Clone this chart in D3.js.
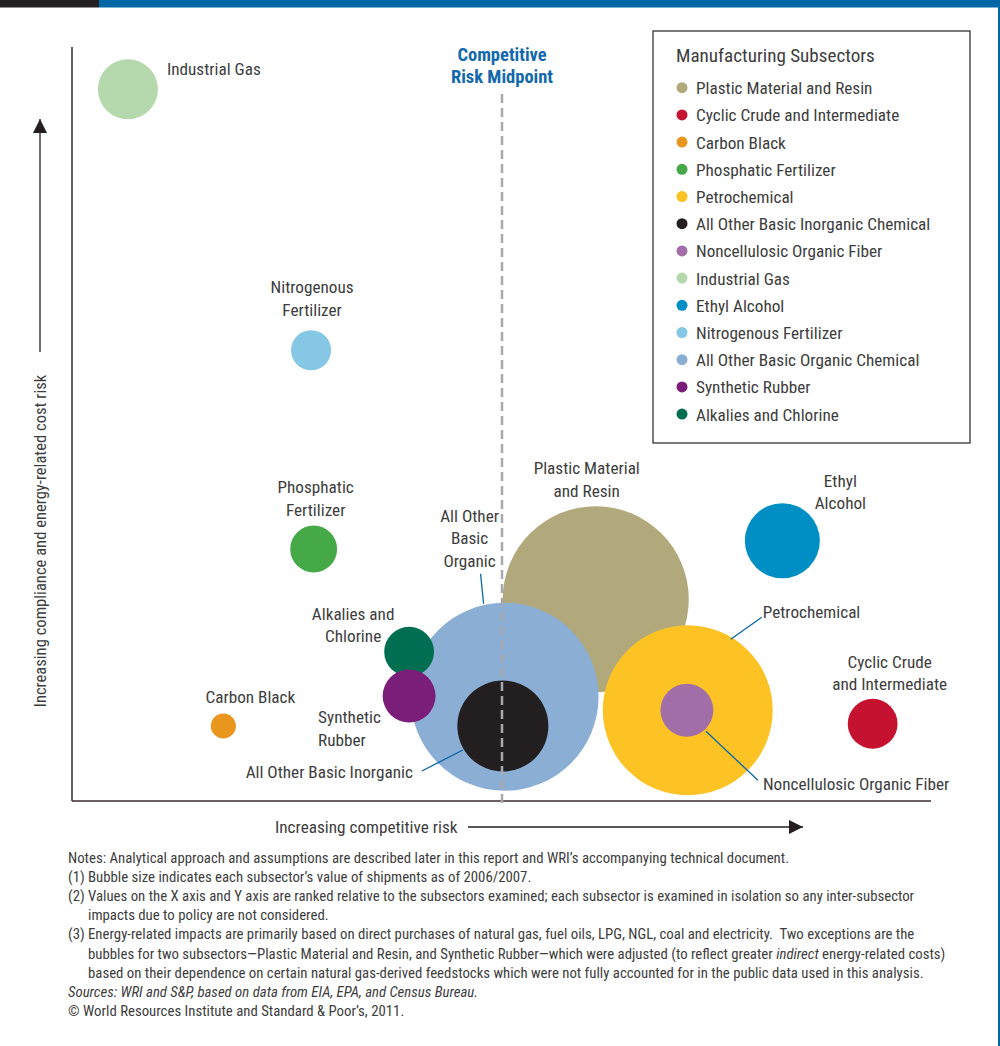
<html lang='en'>
    <head>
        <meta charset='utf-8'>
        <title>Manufacturing Subsectors: Competitive and Cost Risk</title>
        <script src="https://d3js.org/d3.v7.min.js"></script>
        <style>
            body { margin: 0; background: #fff; }
            text { font-family: "Liberation Sans Narrow", "Roboto Condensed", "DejaVu Sans Condensed", "Liberation Sans", sans-serif; fill: #3d3d3d; }
        </style>
    </head>
    <body>
        <script>
            // subsectors, in legend order
            var names = ["Plastic Material and Resin", "Cyclic Crude and Intermediate", "Carbon Black",
                         "Phosphatic Fertilizer", "Petrochemical", "All Other Basic Inorganic Chemical",
                         "Noncellulosic Organic Fiber", "Industrial Gas", "Ethyl Alcohol",
                         "Nitrogenous Fertilizer", "All Other Basic Organic Chemical", "Synthetic Rubber",
                         "Alkalies and Chlorine"];
            // x = competitive risk, y = compliance & energy cost risk (relative rank, 0-100)
            var competitiveRisk = [60.9, 93.1, 17.6, 28.1, 71.6, 50.1, 71.5, 6.5, 82.6, 27.8, 50.3, 39.2, 39.2];
            var costRisk        = [26.9, 10.3, 10.0, 33.6, 12.1, 10.0, 12.1, 94.9, 34.7, 60.1, 13.9, 14.0, 19.9];
            // value of shipments (relative)
            var shipments       = [99, 7.1, 1.8, 6.3, 82.6, 23.7, 8.0, 10.3, 16.1, 4.6, 101, 8.0, 7.1];
            var colors = ["#b1a97b", "#c41230", "#e9961e", "#46a947", "#fdc325", "#231f20", "#a26ea7",
                          "#b5d8ad", "#008fc5", "#86c7e5", "#8baed5", "#7b1e7a", "#006f51"];

            // bubble labels: lines, anchor, offset from bubble centre, optional leader line
            var labelLayout = [
                {lines: ["Plastic Material", "and Resin"], anchor: "middle", dx: -9, dy: -125},
                {lines: ["Cyclic Crude", "and Intermediate"], anchor: "middle", dx: 17, dy: -56},
                {lines: ["Carbon Black"], anchor: "middle", dx: 27, dy: -23},
                {lines: ["Phosphatic", "Fertilizer"], anchor: "middle", dx: 2, dy: -56},
                {lines: ["Petrochemical"], anchor: "start", dx: 75, dy: -92, leader: [74, -93, 43, -71]},
                {lines: ["All Other Basic Inorganic"], anchor: "end", dx: -90, dy: 52, leader: [-81, 45, -40, 24]},
                {lines: ["Noncellulosic Organic Fiber"], anchor: "start", dx: 76, dy: 80, leader: [19, 21, 71, 70]},
                {lines: ["Industrial Gas"], anchor: "start", dx: 39, dy: -14},
                {lines: ["Ethyl", "Alcohol"], anchor: "middle", dx: 58, dy: -54},
                {lines: ["Nitrogenous", "Fertilizer"], anchor: "middle", dx: 1, dy: -57},
                {lines: ["All Other", "Basic", "Organic"], anchor: "middle", dx: -35, dy: -175, leader: [-24, -123, -21, -93]},
                {lines: ["Synthetic", "Rubber"], anchor: "start", dx: -91, dy: 27},
                {lines: ["Alkalies and", "Chlorine"], anchor: "middle", dx: -56, dy: -32}
            ];
            // bigger bubbles first so the small ones sit on top
            var drawOrder = [0, 10, 5, 4, 6, 12, 11, 1, 2, 3, 7, 8, 9];

            var width = 1000;
            var height = 1046;

            var svg = d3.select('body')
                        .append('svg')
                        .attr('width', width)
                        .attr('height', height);

            // top strip
            svg.append('rect').attr('x', 0).attr('y', 0).attr('width', 99).attr('height', 7.5).attr('fill', '#231f20');
            svg.append('rect').attr('x', 99).attr('y', 0).attr('width', width - 99).attr('height', 7.5).attr('fill', '#0066a6');
            svg.append('rect').attr('x', 998).attr('y', 0).attr('width', 2).attr('height', height).attr('fill', '#0066a6');

            //scales
            var x = d3.scaleLinear().domain([0, 100]).range([72, 932]);
            var y = d3.scaleLinear().domain([0, 100]).range([801, 51]);
            var r = d3.scaleSqrt().domain([0, 100]).range([0, 93.5]);

            var data = names.map(function(n, i) {
                return {name: n, x: competitiveRisk[i], y: costRisk[i], size: shipments[i], color: colors[i], label: labelLayout[i]};
            });

            // bubbles
            svg.append('g')
               .selectAll('circle')
               .data(drawOrder.map(function(i) { return data[i]; }))
               .enter()
               .append('circle')
               .attr('cx', function(d) { return x(d.x); })
               .attr('cy', function(d) { return y(d.y); })
               .attr('r', function(d) { return r(d.size); })
               .attr('fill', function(d) { return d.color; });

            // axes lines
            svg.append('line')
               .attr('x1', x(0)).attr('x2', x(0))
               .attr('y1', 47).attr('y2', y(0))
               .attr('stroke', '#3d2a2c').attr('stroke-width', 1.5);
            svg.append('line')
               .attr('x1', x(0)).attr('x2', 931)
               .attr('y1', y(0)).attr('y2', y(0))
               .attr('stroke', '#3d2a2c').attr('stroke-width', 1.5);

            // midpoint
            svg.append('line')
               .attr('x1', x(50)).attr('x2', x(50))
               .attr('y1', 94).attr('y2', y(0) + 2)
               .attr('stroke', '#a7a9ac')
               .attr('stroke-width', 2.5)
               .attr('stroke-dasharray', '9,5');
            var mid = svg.append('text')
               .attr('text-anchor', 'middle')
               .style('font-weight', 'bold')
               .style('font-size', '18.5px')
               .style('fill', '#1268ad');
            mid.append('tspan').attr('x', x(50)).attr('y', 61).text('Competitive');
            mid.append('tspan').attr('x', x(50)).attr('y', 83).text('Risk Midpoint');

            // leader lines
            svg.append('g')
               .selectAll('line')
               .data(data.filter(function(d) { return d.label.leader; }))
               .enter()
               .append('line')
               .attr('x1', function(d) { return x(d.x) + d.label.leader[0]; })
               .attr('y1', function(d) { return y(d.y) + d.label.leader[1]; })
               .attr('x2', function(d) { return x(d.x) + d.label.leader[2]; })
               .attr('y2', function(d) { return y(d.y) + d.label.leader[3]; })
               .attr('stroke', '#0a67a8')
               .attr('stroke-width', 1.3);

            // bubble labels
            var labels = svg.append('g')
               .selectAll('text')
               .data(data)
               .enter()
               .append('text')
               .attr('text-anchor', function(d) { return d.label.anchor; })
               .style('font-size', '17.2px');
            labels.selectAll('tspan')
               .data(function(d) {
                   return d.label.lines.map(function(l, k) {
                       return {t: l, x: x(d.x) + d.label.dx, y: y(d.y) + d.label.dy + k * 22.5};
                   });
               })
               .enter()
               .append('tspan')
               .attr('x', function(d) { return d.x; })
               .attr('y', function(d) { return d.y; })
               .text(function(d) { return d.t; });

            // legend
            var legend = svg.append('g').attr('transform', 'translate(653,31)');
            legend.append('rect')
                  .attr('width', 317).attr('height', 412)
                  .attr('fill', 'none').attr('stroke', '#333').attr('stroke-width', 1.3);
            legend.append('text')
                  .attr('x', 23).attr('y', 31)
                  .style('font-size', '19.1px')
                  .text('Manufacturing Subsectors');
            var items = legend.selectAll('.item')
                  .data(data)
                  .enter()
                  .append('g')
                  .attr('class', 'item')
                  .attr('transform', function(d, i) { return 'translate(29,' + (56.7 + i * 27.2) + ')'; });
            items.append('circle').attr('r', 5.5).attr('fill', function(d) { return d.color; });
            items.append('text')
                 .attr('x', 14).attr('y', 6.5)
                 .style('font-size', '17.2px')
                 .text(function(d) { return d.name; });

            // axis titles with arrows
            svg.append('defs').append('marker')
               .attr('id', 'arrow')
               .attr('viewBox', '0 0 10 10')
               .attr('refX', 10).attr('refY', 5)
               .attr('markerUnits', 'userSpaceOnUse')
               .attr('markerWidth', 14).attr('markerHeight', 15)
               .attr('orient', 'auto')
               .append('path')
               .attr('d', 'M0,0L10,5L0,10Z')
               .attr('fill', '#231f20');

            svg.append('text')
               .attr('x', 275).attr('y', 833)
               .style('font-size', '17.2px')
               .text('Increasing competitive risk');
            svg.append('line')
               .attr('x1', 468).attr('x2', 803)
               .attr('y1', 827).attr('y2', 827)
               .attr('stroke', '#231f20').attr('stroke-width', 1.3)
               .attr('marker-end', 'url(#arrow)');

            svg.append('text')
               .attr('transform', 'translate(46,541) rotate(-90)')
               .attr('text-anchor', 'middle')
               .style('font-size', '16.6px')
               .text('Increasing compliance and energy-related cost risk');
            svg.append('line')
               .attr('x1', 40).attr('x2', 40)
               .attr('y1', 352).attr('y2', 119)
               .attr('stroke', '#231f20').attr('stroke-width', 1.3)
               .attr('marker-end', 'url(#arrow)');

            // notes
            var noteLines = [
                {num: "", text: [["Notes: Analytical approach and assumptions are described later in this report and WRI\u2019s accompanying technical document.", false]]},
                {num: "(1)", text: [["Bubble size indicates each subsector\u2019s value of shipments as of 2006/2007.", false]]},
                {num: "(2)", text: [["Values on the X axis and Y axis are ranked relative to the subsectors examined; each subsector is examined in isolation so any inter-subsector", false]]},
                {num: "", indent: true, text: [["impacts due to policy are not considered.", false]]},
                {num: "(3)", text: [["Energy-related impacts are primarily based on direct purchases of natural gas, fuel oils, LPG, NGL, coal and electricity.\u00a0 Two exceptions are the", false]]},
                {num: "", indent: true, text: [["bubbles for two subsectors\u2014Plastic Material and Resin, and Synthetic Rubber\u2014which were adjusted (to reflect greater ", false], ["indirect", true], [" energy-related costs)", false]]},
                {num: "", indent: true, text: [["based on their dependence on certain natural gas-derived feedstocks which were not fully accounted for in the public data used in this analysis.", false]]},
                {num: "", text: [["Sources: WRI and S&P, based on data from EIA, EPA, and Census Bureau.", true]]},
                {num: "", text: [["\u00a9 World Resources Institute and Standard & Poor\u2019s, 2011.", false]]}
            ];
            var notes = svg.append('g').style('font-size', '14.8px');
            noteLines.forEach(function(line, i) {
                var yy = 863 + i * 19.1;
                if (line.num) {
                    notes.append('text').attr('x', 68).attr('y', yy).text(line.num);
                }
                var t = notes.append('text')
                             .attr('x', (line.num || line.indent) ? 88 : 68)
                             .attr('y', yy)
                             .attr('xml:space', 'preserve');
                line.text.forEach(function(part) {
                    t.append('tspan')
                     .style('font-style', part[1] ? 'italic' : 'normal')
                     .text(part[0]);
                });
            });
        </script>
    </body>
</html>
